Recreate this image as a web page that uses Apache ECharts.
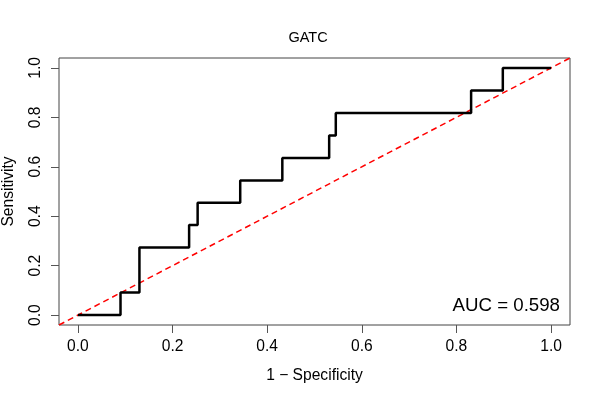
<!DOCTYPE html>
<html>
<head>
<meta charset="utf-8">
<script src="https://cdn.jsdelivr.net/npm/echarts/dist/echarts.min.js"></script>
<style>
  html, body { margin: 0; padding: 0; background: #fff; }
  #chart { width: 600px; height: 400px; }
</style>
</head>
<body>
<div id="chart"></div>
<script>
const chartTitle = 'GATC';
const xAxisTitle = '1 \u2212 Specificity';
const yAxisTitle = 'Sensitivity';
const aucLabel = 'AUC = 0.598';
const fpr = [0, 0.09, 0.13, 0.235, 0.253, 0.343, 0.432, 0.531, 0.545, 0.831, 0.898, 1.0];
const tpr = [0, 0.091, 0.273, 0.364, 0.455, 0.545, 0.636, 0.727, 0.818, 0.909, 1.0, 1.0];
const xTicks = [0, 0.2, 0.4, 0.6, 0.8, 1.0];
const yTicks = [0, 0.2, 0.4, 0.6, 0.8, 1.0];
const axisRange = [-0.04, 1.04];
const diagonal = [-0.04, 1.04];

const FONT = '"Liberation Sans", Arial, Helvetica, sans-serif';
const chart = echarts.init(document.getElementById('chart'));
chart.setOption({
  animation: false,
  backgroundColor: '#fff',
  title: {
    text: chartTitle,
    left: 308,
    top: 30,
    padding: 0,
    textAlign: 'center',
    textStyle: { fontFamily: FONT, fontSize: 14.5, fontWeight: 'normal', color: '#000' }
  },
  grid: {
    left: 59, right: 30, top: 58, bottom: 75,
    containLabel: false,
    outerBoundsMode: 'none',
    show: true, borderColor: '#444', borderWidth: 1, backgroundColor: 'transparent'
  },
  xAxis: {
    type: 'value',
    min: axisRange[0], max: axisRange[1],
    name: xAxisTitle,
    nameLocation: 'middle',
    nameGap: 43,
    nameTextStyle: { fontFamily: FONT, fontSize: 15.6, color: '#000' },
    axisLine: { show: false, onZero: false },
    splitLine: { show: false },
    axisTick: { show: true, length: 8, customValues: xTicks, lineStyle: { color: '#555', width: 1 } },
    axisLabel: {
      customValues: xTicks, margin: 14,
      fontFamily: FONT, fontSize: 15.6, color: '#000',
      formatter: v => v.toFixed(1)
    }
  },
  yAxis: {
    type: 'value',
    min: axisRange[0], max: axisRange[1],
    name: yAxisTitle,
    nameLocation: 'middle',
    nameGap: 42,
    nameRotate: 90,
    nameTextStyle: { fontFamily: FONT, fontSize: 15.6, color: '#000' },
    axisLine: { show: false, onZero: false },
    splitLine: { show: false },
    axisTick: { show: true, length: 8, customValues: yTicks, lineStyle: { color: '#555', width: 1 } },
    axisLabel: {
      customValues: yTicks, margin: 15, rotate: 90,
      fontFamily: FONT, fontSize: 15.6, color: '#000',
      formatter: v => v.toFixed(1)
    }
  },
  series: [
    {
      type: 'line',
      data: diagonal.map(v => [v, v]),
      symbol: 'none',
      lineStyle: { color: '#ff0000', width: 1.5, type: [6, 4] },
      silent: true,
      z: 2
    },
    {
      type: 'line',
      data: fpr.map((x, i) => [x, tpr[i]]),
      step: 'end',
      symbol: 'none',
      lineStyle: { color: '#000', width: 2.5 },
      silent: true,
      z: 3
    }
  ],
  graphic: [
    {
      type: 'text',
      right: 40,
      top: 296,
      style: { text: aucLabel, fontFamily: FONT, fontSize: 18.7, fill: '#000' }
    }
  ]
});
</script>
</body>
</html>
